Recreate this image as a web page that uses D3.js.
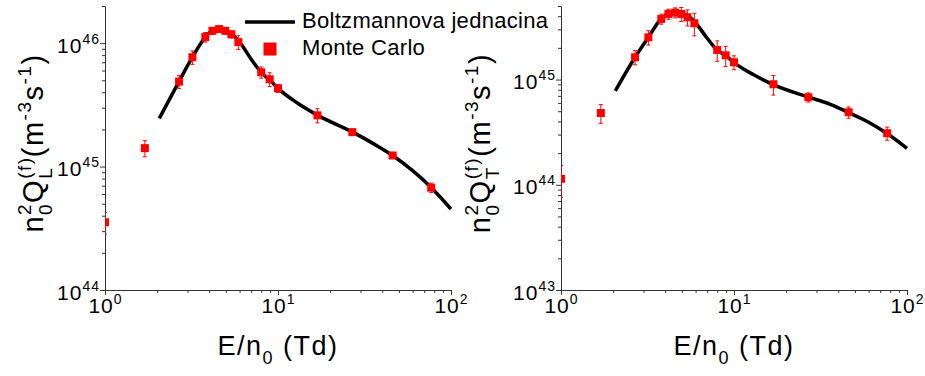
<!DOCTYPE html>
<html>
<head>
<meta charset="utf-8">
<script src="https://cdn.jsdelivr.net/npm/d3@7"></script>
<style>
  body { margin: 0; background: #fff; }
  svg { font-family: Arial, "Liberation Sans", sans-serif; }
</style>
</head>
<body>
<svg id="chart" width="925" height="376"></svg>
<script>
// Monte Carlo energies (Td), shared by both panels
const mcEnergy = [1.0, 1.7, 2.68, 3.2, 3.8, 4.18, 4.57, 4.96, 5.38, 5.9, 8.0, 8.95, 10.0, 16.9, 26.9, 46, 76.8];

// longitudinal (L) panel
const mcL = [3.54e44, 1.41e45, 4.88e45, 7.69e45, 1.12e46, 1.26e46, 1.30e46, 1.26e46, 1.18e46, 1.02e46,
  5.81e45, 5.1e45, 4.31e45, 2.6e45, 1.9e45, 1.23e45, 6.75e44];
const mcLErr = [0.7e44, 2.1e44, 6e44, 9.6e44, 1e45, 0.8e45, 0.8e45, 0.8e45, 0.8e45, 1.3e45,
  6e44, 6.5e44, 3.2e44, 3.4e44, 1e44, 0.6e44, 0.6e44];

// transverse (T) panel
const mcT = [1.14e44, 4.81e44, 1.63e45, 2.52e45, 3.77e45, 4.2e45, 4.33e45, 4.2e45, 3.91e45, 3.43e45,
  1.91e45, 1.7e45, 1.46e45, 9.02e44, 6.79e44, 4.89e44, 3.09e44];
const mcTErr = [0.38e44, 0.97e44, 2.5e44, 3.9e44, 4.1e44, 4.6e44, 4.7e44, 6.4e44, 6.8e44, 8.3e44,
  4.2e44, 3.7e44, 2.2e44, 1.9e44, 0.68e44, 0.6e44, 0.44e44];

// Boltzmann equation curves
const bolEnergy = [2.06, 2.68, 3.2, 3.8, 4.2, 4.55, 5.0, 5.5, 6.0, 7.0, 8.0, 9.0, 10, 13, 17, 27, 36, 46, 60, 77, 100];
const bolL = [2.46e45, 4.9e45, 7.7e45, 1.12e46, 1.27e46, 1.31e46, 1.27e46, 1.16e46, 1.02e46, 7.41e45, 5.8e45,
  5.0e45, 4.3e45, 3.26e45, 2.6e45, 1.9e45, 1.52e45, 1.23e45, 9.27e44, 6.75e44, 4.53e44];
const bolT = [7.8e44, 1.63e45, 2.52e45, 3.8e45, 4.25e45, 4.4e45, 4.3e45, 3.95e45, 3.45e45, 2.47e45, 1.9e45,
  1.68e45, 1.45e45, 1.11e45, 8.9e44, 6.8e44, 5.82e44, 4.85e44, 3.93e44, 3.05e44, 2.22e44];

const xDomain = [1, 100];
const legendLabels = ["Boltzmannova jednacina", "Monte Carlo"];

const svg = d3.select("#chart");
const plotTop = 6, plotBottom = 290;
const red = "#ff0000", axisColor = "#333";

const isMajor = v => Math.abs(Math.log10(v) - Math.round(Math.log10(v))) < 1e-6;

// text with sub/superscripts; stack=true puts the next piece under/over this one
function richText(sel, segs, size, small) {
  let off = 0, back = 0;
  segs.forEach(s => {
    const target = s.pos === "sup" ? -size * 0.42 : s.pos === "sub" ? size * 0.32 : 0;
    const ts = sel.append("tspan")
      .attr("font-size", s.pos ? small : size)
      .attr("dy", target - off)
      .text(s.t);
    if (back) ts.attr("dx", -back);
    off = target;
    back = s.stack ? ts.node().getComputedTextLength() : 0;
  });
}

function panel(cfg, idx) {
  const x = d3.scaleLog().domain(xDomain).range([cfg.x0, cfg.x1]);
  const y = d3.scaleLog().domain(cfg.yDomain).range([plotBottom, plotTop]);

  const clipId = "clip" + idx;
  svg.append("clipPath").attr("id", clipId)
    .append("rect").attr("x", cfg.x0).attr("y", 0).attr("width", cfg.x1 - cfg.x0 + 10).attr("height", plotBottom + 5);

  const gx = svg.append("g")
    .attr("transform", `translate(0,${plotBottom})`)
    .call(d3.axisBottom(x).tickValues(x.ticks()).tickSizeOuter(0).tickFormat(""));
  gx.selectAll(".tick line").attr("y2", d => isMajor(d) ? 5 : 3);
  gx.selectAll(".tick").filter(isMajor).append("text")
    .attr("fill", "#000").attr("y", 23).attr("text-anchor", "middle").attr("letter-spacing", 1)
    .each(function (d) {
      richText(d3.select(this), [{ t: "10" }, { t: Math.round(Math.log10(d)), pos: "sup" }], 21, 14);
    });

  const gy = svg.append("g")
    .attr("transform", `translate(${cfg.x0},0)`)
    .call(d3.axisLeft(y).tickValues(y.ticks()).tickSizeOuter(0).tickFormat(""));
  gy.selectAll(".tick line").attr("x2", d => isMajor(d) ? -5 : -3);
  gy.selectAll(".tick").filter(isMajor).append("text")
    .attr("fill", "#000").attr("x", -5).attr("y", 9).attr("text-anchor", "end").attr("letter-spacing", 1)
    .each(function (d) {
      richText(d3.select(this), [{ t: "10" }, { t: Math.round(Math.log10(d)), pos: "sup" }], 21, 14);
    });
  svg.selectAll(".domain, .tick line").attr("stroke", axisColor);
  gx.attr("font-family", null);
  gy.attr("font-family", null);

  const plot = svg.append("g").attr("clip-path", `url(#${clipId})`);

  const line = d3.line()
    .x((d, i) => x(bolEnergy[i]))
    .y(d => y(d))
    .curve(d3.curveMonotoneX);
  plot.append("path").datum(cfg.bol)
    .attr("fill", "none").attr("stroke", "#000").attr("stroke-width", 3.5)
    .attr("d", line);

  const pts = mcEnergy.map((e, i) => ({ e, v: cfg.mc[i], err: cfg.err[i] }));
  const eb = plot.append("g").attr("stroke", red).attr("stroke-width", 1);
  eb.selectAll("line.v").data(pts).join("line").attr("class", "v")
    .attr("x1", d => x(d.e)).attr("x2", d => x(d.e))
    .attr("y1", d => y(d.v + d.err)).attr("y2", d => y(d.v - d.err));
  ["u", "d"].forEach(k => {
    const yy = d => y(k === "u" ? d.v + d.err : d.v - d.err);
    eb.selectAll("line.c" + k).data(pts).join("line").attr("class", "c" + k)
      .attr("x1", d => x(d.e) - 2).attr("x2", d => x(d.e) + 2)
      .attr("y1", yy).attr("y2", yy);
  });
  plot.append("g").attr("fill", red).selectAll("rect").data(pts).join("rect")
    .attr("x", d => x(d.e) - 4).attr("y", d => y(d.v) - 4)
    .attr("width", 8).attr("height", 8);

  // axis titles
  svg.append("text")
    .attr("x", (cfg.x0 + cfg.x1) / 2).attr("y", 355)
    .attr("text-anchor", "middle").attr("letter-spacing", 1.5)
    .call(t => richText(t, [{ t: "E/n" }, { t: "0", pos: "sub" }, { t: " (Td)" }], 27, 18));

  svg.append("text")
    .attr("transform", `translate(${cfg.titleX},143) rotate(-90)`)
    .attr("text-anchor", "middle").attr("letter-spacing", 1.5)
    .call(t => richText(t, [
      { t: "n" }, { t: "0", pos: "sub", stack: true }, { t: "2", pos: "sup" },
      { t: "Q" }, { t: "(f)", pos: "sup", stack: true }, { t: cfg.sub, pos: "sub" },
      { t: " (m" }, { t: "-3", pos: "sup" }, { t: "s" }, { t: "-1", pos: "sup" }, { t: ")" }
    ], 29, 19));
}

panel({ x0: 105, x1: 451, yDomain: [1e44, 2e46], mc: mcL, err: mcLErr, bol: bolL, sub: "L", titleX: 43 }, 0);
panel({ x0: 561, x1: 907, yDomain: [1e43, 5e45], mc: mcT, err: mcTErr, bol: bolT, sub: "T", titleX: 490 }, 1);

// legend
const lg = svg.append("g").attr("font-size", 22).attr("letter-spacing", 0.3);
lg.append("line").attr("x1", 245).attr("x2", 295).attr("y1", 22).attr("y2", 22)
  .attr("stroke", "#000").attr("stroke-width", 3.5);
lg.append("rect").attr("x", 263.5).attr("y", 42.5).attr("width", 13).attr("height", 13).attr("fill", red);
lg.selectAll("text").data(legendLabels).join("text")
  .attr("x", 302).attr("y", (d, i) => 28 + i * 27)
  .text(d => d);
</script>
</body>
</html>
